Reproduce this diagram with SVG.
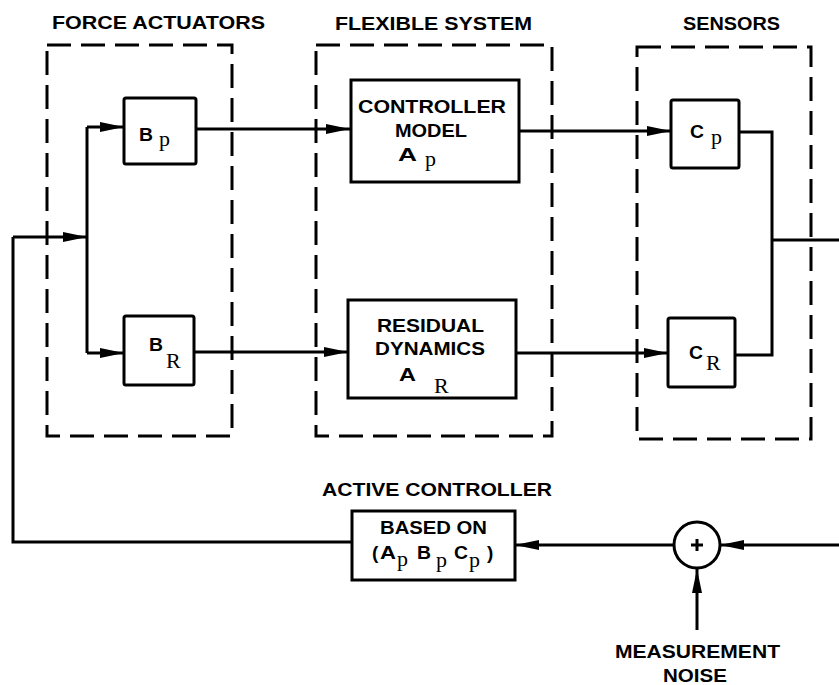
<svg xmlns="http://www.w3.org/2000/svg" width="839" height="685" viewBox="0 0 839 685">
<defs>
<marker id="ah" markerUnits="userSpaceOnUse" markerWidth="26" markerHeight="12" refX="24" refY="6" orient="auto">
<path d="M0,1 L24,6 L0,11 z" fill="#000"/>
</marker>
<style>
.t{font-family:"Liberation Sans",Arial,sans-serif;font-weight:bold;font-size:19px;fill:#000}
.l{font-family:"Liberation Sans",Arial,sans-serif;font-weight:bold;font-size:19px;fill:#000}
.s{font-family:"Liberation Serif","Times New Roman",serif;font-size:22px;fill:#000}
.dash{fill:none;stroke:#000;stroke-width:3;stroke-dasharray:24 10}
.box{fill:#fff;stroke:#000;stroke-width:3}
.ln{fill:none;stroke:#000;stroke-width:3}
.ar{fill:none;stroke:#000;stroke-width:3;marker-end:url(#ah)}
</style>
</defs>
<rect width="839" height="685" fill="#fff"/>

<g id="group-force-actuators">
<rect class="dash" x="47" y="45" width="185" height="391"/>
<text class="t" x="52" y="29" textLength="213" lengthAdjust="spacingAndGlyphs">FORCE ACTUATORS</text>
</g>
<g id="group-flexible-system">
<rect class="dash" x="316" y="45" width="236" height="391"/>
<text class="t" x="335" y="30" textLength="197" lengthAdjust="spacingAndGlyphs">FLEXIBLE SYSTEM</text>
</g>
<g id="group-sensors">
<rect class="dash" x="637" y="47" width="174" height="392"/>
<text class="t" x="683" y="30" textLength="97" lengthAdjust="spacingAndGlyphs">SENSORS</text>
</g>

<g id="connectors">
<path class="ar" d="M13,237 H87"/>
<path class="ln" d="M87,237 V127"/>
<path class="ln" d="M87,237 V353"/>
<path class="ar" d="M87,127 H124"/>
<path class="ar" d="M87,353 H124"/>
<path class="ar" d="M196,129 H350"/>
<path class="ar" d="M194,352 H348"/>
<path class="ar" d="M519,131 H671"/>
<path class="ar" d="M516,353 H668"/>
<path class="ln" d="M739,132 H772 V355 H735"/>
<path class="ln" d="M772,240 H839"/>
<path class="ar" d="M839,545 H720"/>
<path class="ar" d="M674,545 H515"/>
<path class="ln" d="M352,542 H13 V237"/>
<path class="ar" d="M697,630 V569"/>
</g>

<g id="node-bp">
<rect class="box" x="124" y="98" width="72" height="66" rx="2"/>
<text class="l" x="139" y="141" textLength="14" lengthAdjust="spacingAndGlyphs">B</text><text class="s" x="159" y="146">p</text>
</g>
<g id="node-br">
<rect class="box" x="124" y="316" width="70" height="69" rx="2"/>
<text class="l" x="149" y="351" textLength="14" lengthAdjust="spacingAndGlyphs">B</text><text class="s" x="166" y="368">R</text>
</g>
<g id="node-controller-model">
<rect class="box" x="351" y="80" width="168" height="102"/>
<text class="t" x="358" y="113" textLength="148" lengthAdjust="spacingAndGlyphs">CONTROLLER</text>
<text class="t" x="395" y="137" textLength="72" lengthAdjust="spacingAndGlyphs">MODEL</text>
<text class="l" x="398" y="161" textLength="19" lengthAdjust="spacingAndGlyphs">A</text><text class="s" x="425" y="166">p</text>
</g>
<g id="node-residual-dynamics">
<rect class="box" x="348" y="300" width="168" height="98"/>
<text class="t" x="377" y="332" textLength="107" lengthAdjust="spacingAndGlyphs">RESIDUAL</text>
<text class="t" x="375" y="355" textLength="110" lengthAdjust="spacingAndGlyphs">DYNAMICS</text>
<text class="l" x="399" y="381" textLength="17" lengthAdjust="spacingAndGlyphs">A</text><text class="s" x="434" y="393">R</text>
</g>
<g id="node-cp">
<rect class="box" x="671" y="100" width="68" height="68" rx="2"/>
<text class="l" x="690" y="138" textLength="14" lengthAdjust="spacingAndGlyphs">C</text><text class="s" x="711" y="144">p</text>
</g>
<g id="node-cr">
<rect class="box" x="668" y="318" width="67" height="69" rx="2"/>
<text class="l" x="689" y="359" textLength="14" lengthAdjust="spacingAndGlyphs">C</text><text class="s" x="706" y="370">R</text>
</g>
<g id="node-active-controller">
<text class="t" x="322" y="496" textLength="230" lengthAdjust="spacingAndGlyphs">ACTIVE CONTROLLER</text>
<rect class="box" x="352" y="511" width="163" height="69"/>
<text class="t" x="380" y="534" textLength="107" lengthAdjust="spacingAndGlyphs">BASED ON</text>
<text class="l" x="372" y="559">(</text>
<text class="l" x="380" y="559" textLength="16" lengthAdjust="spacingAndGlyphs">A</text><text class="s" x="397" y="566">p</text>
<text class="l" x="417" y="559" textLength="14" lengthAdjust="spacingAndGlyphs">B</text><text class="s" x="436" y="567">p</text>
<text class="l" x="454" y="559" textLength="14" lengthAdjust="spacingAndGlyphs">C</text><text class="s" x="469" y="567">p</text>
<text class="l" x="487" y="559">)</text>
</g>
<g id="node-sum">
<circle cx="697" cy="545" r="23" fill="#fff" stroke="#000" stroke-width="3"/>
<path d="M691,545 H703 M697,539 V551" stroke="#000" stroke-width="3"/>
</g>
<g id="node-noise">
<text class="t" x="615" y="658" textLength="165" lengthAdjust="spacingAndGlyphs">MEASUREMENT</text>
<text class="t" x="663" y="682" textLength="64" lengthAdjust="spacingAndGlyphs">NOISE</text>
</g>
</svg>
